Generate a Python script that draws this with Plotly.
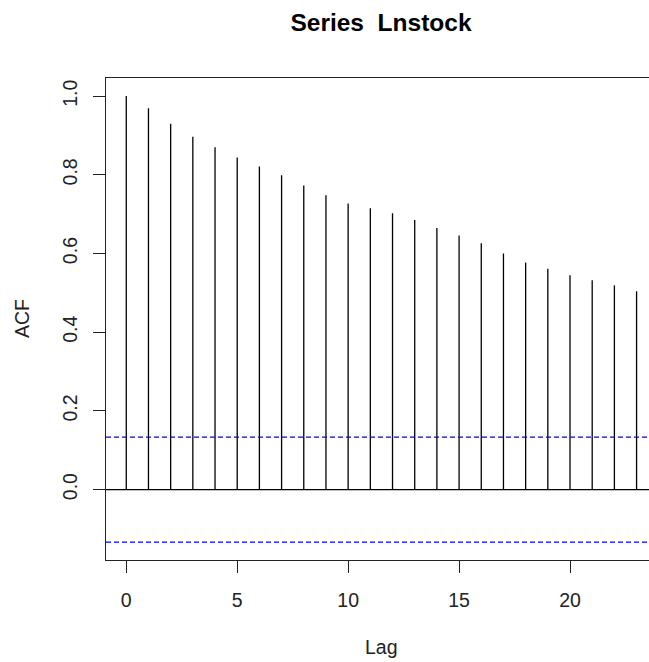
import plotly.graph_objects as go

# Sample autocorrelations of Lnstock, lags 0..23
lags = list(range(24))
acf_values = [1.000, 0.969, 0.930, 0.897, 0.870, 0.844, 0.821, 0.799,
              0.773, 0.748, 0.727, 0.715, 0.702, 0.685, 0.665, 0.646,
              0.626, 0.600, 0.577, 0.561, 0.545, 0.532, 0.519, 0.504]
conf_limit = 0.1334  # 95% bound, 1.96/sqrt(n)

title_text = "Series  Lnstock"
x_label = "Lag"
y_label = "ACF"
x_ticks = [0, 5, 10, 15, 20]
y_ticks = [0.0, 0.2, 0.4, 0.6, 0.8, 1.0]

FONT = "Liberation Sans, Arial, sans-serif"

# vertical spikes from zero to each autocorrelation
spike_x, spike_y = [], []
for lag, r in zip(lags, acf_values):
    spike_x += [lag, lag, None]
    spike_y += [0, r, None]

x_range = [-0.914, 23.56]
y_range = [-0.179, 1.046]

fig = go.Figure()
fig.add_trace(go.Scatter(x=spike_x, y=spike_y, mode="lines",
                         line=dict(color="black", width=1.3),
                         hoverinfo="skip", showlegend=False))
fig.add_trace(go.Scatter(x=x_range, y=[0, 0], mode="lines",
                         line=dict(color="black", width=1.3),
                         hoverinfo="skip", showlegend=False))
for lim in (conf_limit, -conf_limit):
    fig.add_trace(go.Scatter(x=x_range, y=[lim, lim], mode="lines",
                             line=dict(color="#0000ff", width=1.2, dash="5px,3px"),
                             hoverinfo="skip", showlegend=False))

fig.update_layout(
    width=649, height=662,
    margin=dict(l=106, r=0, t=78, b=102),
    paper_bgcolor="white", plot_bgcolor="white",
    font=dict(family=FONT, size=19, color="black"),
    title=dict(text="<b>%s</b>" % title_text, x=381 / 649, xanchor="center",
               xref="container", yref="container", y=1 - 22 / 662,
               yanchor="middle", font=dict(size=24.5, family=FONT)),
    showlegend=False,
)
fig.update_xaxes(range=x_range, tickvals=x_ticks, ticktext=[str(t) for t in x_ticks],
                 ticks="outside", ticklen=12, tickwidth=1, tickcolor="#222",
                 showline=True, linecolor="#222", linewidth=1.3, mirror=True,
                 showgrid=False, zeroline=False, ticklabelstandoff=10,
                 tickfont=dict(size=19.5, color="#222"))
fig.update_yaxes(range=y_range, tickvals=y_ticks, ticktext=["%.1f" % t for t in y_ticks],
                 ticks="outside", ticklen=12, tickwidth=1, tickcolor="#222",
                 showline=True, linecolor="#222", linewidth=1.3, mirror=False,
                 showgrid=False, zeroline=False, tickangle=-90, ticklabelstandoff=8,
                 tickfont=dict(size=19.5, color="#222"))

fig.add_annotation(text=x_label, xref="paper", yref="paper", x=(381 - 106) / 543,
                   y=0, yshift=-87, xanchor="center", yanchor="middle",
                   showarrow=False, font=dict(size=19.5, color="#222"))
fig.add_annotation(text=y_label, xref="paper", yref="paper", x=0, xshift=-84,
                   y=0.5, xanchor="center", yanchor="middle", textangle=-90,
                   showarrow=False, font=dict(size=19.5, color="#222"))

fig.write_html("out.html")
